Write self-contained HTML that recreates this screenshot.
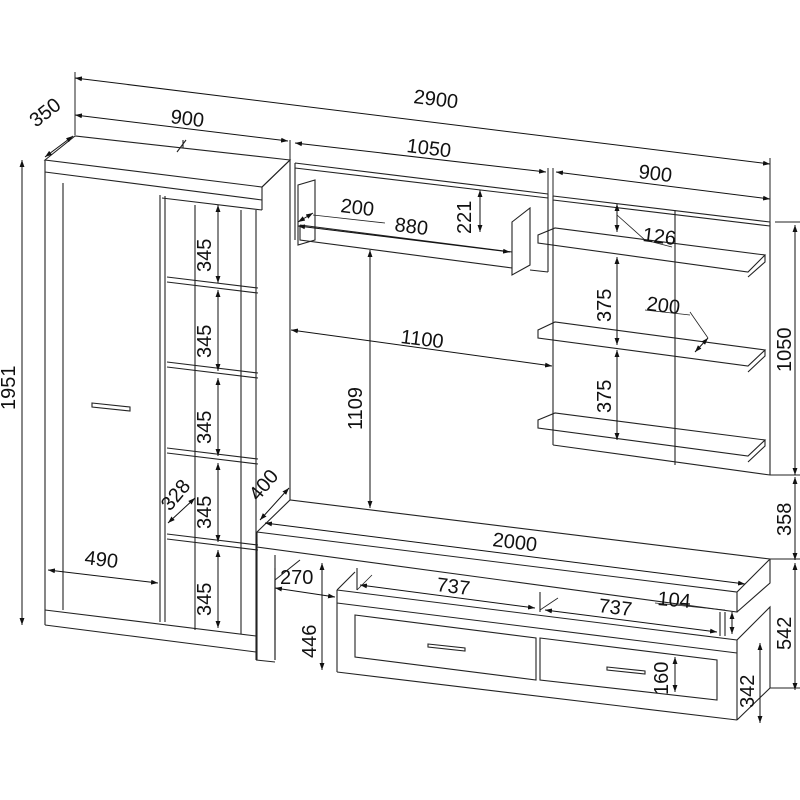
<!DOCTYPE html>
<html><head><meta charset="utf-8"><style>
html,body{margin:0;padding:0;background:#fff}
svg{display:block}
text{font-family:"Liberation Sans",sans-serif;font-size:20px;fill:#111}
</style></head><body>
<svg width="800" height="800" viewBox="0 0 800 800" xmlns="http://www.w3.org/2000/svg">
<defs>
<marker id="a" viewBox="0 0 10 10" refX="10" refY="5" markerWidth="7" markerHeight="7" orient="auto-start-reverse"><path d="M0,1.5L10,5L0,8.5z" fill="#111"/></marker>
</defs>
<g stroke="#222" stroke-width="1.1" fill="none">
<path d="M45,160 L75,136 L290,160 L262,187 Z"/>
<path d="M45,160 L45,625 M45,172 L262,200 M262,187 L262,210 M262,210 L162,198"/>
<path d="M290,160 L290,500 M262,187 L290,160"/>
<path d="M63,183 L63,610 M160,195 L160,622 M165,196 L165,622"/>
<path d="M45,610 L256,636 M45,625 L256,652 M256,210 L256,660 M275,568 L275,660 M256,660 L275,662"/>
<path d="M195,205 L195,630 M241,210 L241,634"/>
<path d="M167,277 L258,288 M167,282 L258,293 M167,362 L258,373 M167,367 L258,378 M167,448 L258,459 M167,453 L258,464 M167,534 L258,545 M167,539 L258,550"/>
<path d="M92,403 L130,407 L130,411 L92,407 Z"/>
<path d="M177,152 L186,140 M183,140 L183,148"/>
<path d="M295,163 L548,194 M295,168 L548,198 M295,163 L295,240 M548,194 L548,272 M530,270 L548,272"/>
<path d="M298,185 L315,180 L315,240 L298,245 Z"/>
<path d="M300,225 L512,252 M300,225 L300,240 L512,268 M300,240 L512,268"/>
<path d="M512,222 L530,208 L530,265 L512,275 Z"/>
<path d="M553,196 L770,222 M553,200 L770,226 M553,196 L553,445 M770,222 L770,475 M553,445 L770,475 M675,210 L675,465"/>
<path d="M538,235 L555,228 L765,255 L748,272 L538,243 Z M765,255 L765,262 L748,277 M538,243 L748,272"/>
<path d="M538,330 L555,322 L765,350 L748,366 L538,338 Z M765,350 L765,356 L748,372"/>
<path d="M538,420 L555,413 L765,440 L748,456 L538,428 Z M765,440 L765,446 L748,462"/>
<!-- TV stand -->
<path d="M257,532 L290,500 L770,559 L737,592 Z M257,532 L257,547 L737,612 L737,592 M770,559 L770,583 L737,612"/>
<path d="M257,547 L257,660 M275,555 L275,660"/>
<path d="M337,590 L355,572 M337,590 L337,672 M337,590 L737,640 M337,603 L737,653 M337,672 L737,720 M737,640 L737,720 M737,640 L770,607 L770,688 L737,720"/>
<path d="M357,568 L357,590 M540,592 L540,612 M720,612 L720,636 M725,612 L725,636"/>
<path d="M355,615 L536,638 L536,680 L355,657 Z M540,638 L717,660 L717,700 L540,680 Z"/>
<path d="M428,644 L465,648 L465,651 L428,647 Z M607,667 L645,671 L645,674 L607,670 Z"/>
<path d="M275,580 L300,560 M275,580 L275,640"/>
</g>
<g stroke="#222" stroke-width="1" fill="none">
<path d="M75,72 L75,135 M290,140 L290,160 M770,158 L770,222 M800,222 L775,222 M548,168 L548,196 M553,168 L553,196 M770,559 L800,559 M770,688 L800,688 M770,475 L800,475"/>
</g>
<g stroke="#111" stroke-width="1" fill="none" marker-start="url(#a)" marker-end="url(#a)">
<line x1="75" y1="78" x2="770" y2="164"/>
<line x1="75" y1="115" x2="288" y2="141"/>
<line x1="45" y1="157" x2="73" y2="136"/>
<line x1="22" y1="160" x2="22" y2="625"/>
<line x1="295" y1="143" x2="546" y2="172"/>
<line x1="556" y1="172" x2="770" y2="199"/>
<line x1="795" y1="225" x2="795" y2="475"/>
<line x1="795" y1="477" x2="795" y2="560"/>
<line x1="795" y1="563" x2="795" y2="690"/>
<line x1="760" y1="643" x2="760" y2="723"/>
<line x1="675" y1="657" x2="675" y2="692"/>
<line x1="218" y1="205" x2="218" y2="283"/>
<line x1="218" y1="290" x2="218" y2="371"/>
<line x1="218" y1="378" x2="218" y2="456"/>
<line x1="218" y1="463" x2="218" y2="542"/>
<line x1="218" y1="550" x2="218" y2="628"/>
<line x1="48" y1="570" x2="158" y2="583"/>
<line x1="168" y1="523" x2="195" y2="498"/>
<line x1="260" y1="520" x2="289" y2="488"/>
<line x1="275" y1="588" x2="335" y2="597"/>
<line x1="322" y1="563" x2="322" y2="670"/>
<line x1="480" y1="190" x2="480" y2="232"/>
<line x1="298" y1="222" x2="313" y2="213"/>
<line x1="298" y1="226" x2="510" y2="252"/>
<line x1="370" y1="250" x2="370" y2="508"/>
<line x1="291" y1="330" x2="552" y2="366"/>
<line x1="617" y1="204" x2="617" y2="232"/>
<line x1="617" y1="257" x2="617" y2="345"/>
<line x1="617" y1="350" x2="617" y2="440"/>
<line x1="708" y1="338" x2="695" y2="352"/>
<line x1="265" y1="523" x2="745" y2="584"/>
<line x1="360" y1="585" x2="535" y2="608"/>
<line x1="545" y1="610" x2="717" y2="632"/>
<line x1="732" y1="612" x2="732" y2="634"/>
</g>
<g stroke="#222" stroke-width="0.8" fill="none">
<path d="M617,215 L645,240 L672,247 M690,312 L708,338 M645,310 L690,315 M313,215 L385,223 M655,603 L725,610 M540,610 L558,598 M357,590 L372,575"/>
</g>
<g font-size="21">
<text transform="translate(36,128) rotate(-38)" font-size="21">350</text>
<text transform="translate(170,123) rotate(7)" font-size="21">900</text>
<text transform="translate(413,103) rotate(7)" font-size="21">2900</text>
<text transform="translate(15,410) rotate(-90)" font-size="21">1951</text>
<text transform="translate(406,152) rotate(7)" font-size="21">1050</text>
<text transform="translate(638,178) rotate(7)" font-size="21">900</text>
<text transform="translate(211,272) rotate(-90)" font-size="21">345</text>
<text transform="translate(211,358) rotate(-90)" font-size="21">345</text>
<text transform="translate(211,444) rotate(-90)" font-size="21">345</text>
<text transform="translate(211,529) rotate(-90)" font-size="21">345</text>
<text transform="translate(211,616) rotate(-90)" font-size="21">345</text>
<text transform="translate(84,564) rotate(7)" font-size="21">490</text>
<text transform="translate(170,512) rotate(-50)" font-size="21">328</text>
<text transform="translate(258,502) rotate(-50)" font-size="21">400</text>
<text transform="translate(340,212) rotate(7)" font-size="21">200</text>
<text transform="translate(394,231) rotate(7)" font-size="21">880</text>
<text transform="translate(471,234) rotate(-90)" font-size="21">221</text>
<text transform="translate(400,343) rotate(7)" font-size="21">1100</text>
<text transform="translate(362,430) rotate(-90)" font-size="21">1109</text>
<text transform="translate(642,241) rotate(7)" font-size="21">126</text>
<text transform="translate(646,310) rotate(7)" font-size="21">200</text>
<text transform="translate(611,322) rotate(-90)" font-size="21">375</text>
<text transform="translate(611,413) rotate(-90)" font-size="21">375</text>
<text transform="translate(791,372) rotate(-90)" font-size="21">1050</text>
<text transform="translate(791,536) rotate(-90)" font-size="21">358</text>
<text transform="translate(791,650) rotate(-90)" font-size="21">542</text>
<text transform="translate(492,546) rotate(7)" font-size="21">2000</text>
<text transform="translate(280,584)" font-size="21">270</text>
<text transform="translate(316,658) rotate(-90)" font-size="21">446</text>
<text transform="translate(436,591) rotate(7)" font-size="21">737</text>
<text transform="translate(598,612) rotate(7)" font-size="21">737</text>
<text transform="translate(657,605) rotate(5)" font-size="21">104</text>
<text transform="translate(668,695) rotate(-90)" font-size="21">160</text>
<text transform="translate(754,708) rotate(-90)" font-size="21">342</text>
</g>
</svg>
</body></html>
